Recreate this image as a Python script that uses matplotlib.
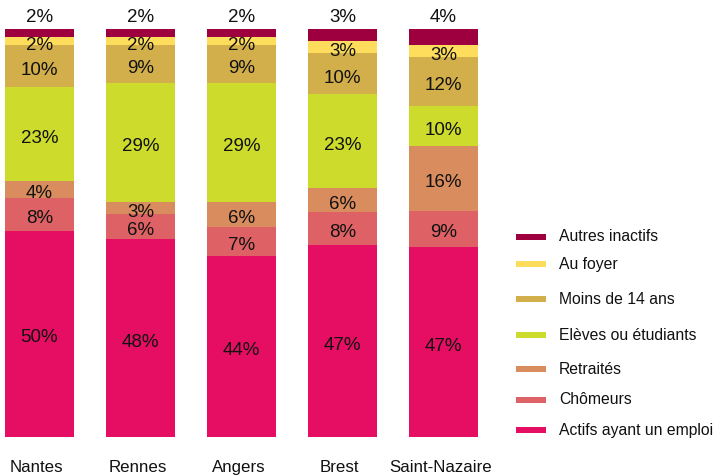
import matplotlib
matplotlib.use("Agg")
import matplotlib.pyplot as plt
from matplotlib.patches import Rectangle
import numpy as np

plt.rcParams['font.family'] = ['Liberation Sans', 'DejaVu Sans']

cities = ["Nantes", "Rennes", "Angers", "Brest", "Saint-Nazaire"]

# Stack order, bottom to top
categories = [
    "Actifs ayant un emploi",
    "Chômeurs",
    "Retraités",
    "Elèves ou étudiants",
    "Moins de 14 ans",
    "Au foyer",
    "Autres inactifs",
]

actifs = [50, 48, 44, 47, 47]
chomeurs = [8, 6, 7, 8, 9]
retraites = [4, 3, 6, 6, 16]
eleves = [23, 29, 29, 23, 10]
moins14 = [10, 9, 9, 10, 12]
foyer = [2, 2, 2, 3, 3]
autres = [2, 2, 2, 3, 4]

colors = ["#E50E62", "#DE6265", "#D98C5E", "#CCDB2C", "#D2AF4A", "#FFDD5C", "#9E003F"]

series = [actifs, chomeurs, retraites, eleves, moins14, foyer, autres]
data = np.array(series, dtype=float)
totals = data.sum(axis=0)
shares = data / totals * 100.0

W, H = 716, 475
fig = plt.figure(figsize=(W / 100, H / 100), dpi=100)
ax = fig.add_axes([4.15 / W, (H - 436.7) / H, 474.7 / W, (436.7 - 29) / H])

x = np.arange(len(cities))
bottom = np.zeros(len(cities))
text_color = "#111111"
for i, (name, col) in enumerate(zip(categories, colors)):
    ax.bar(x, shares[i], 0.683, bottom=bottom, color=col, linewidth=0, label=name)
    for j in range(len(cities)):
        label = f"{int(data[i, j])}%"
        if i == len(categories) - 1:
            ax.annotate(label, (x[j], bottom[j] + shares[i, j]), xytext=(0, 8),
                        textcoords="offset points", ha="center", va="center",
                        fontsize=13.5, color=text_color)
        else:
            ax.annotate(label, (x[j], bottom[j] + shares[i, j] / 2), xytext=(0, -3),
                        textcoords="offset points", ha="center", va="center",
                        fontsize=13.5, color=text_color)
    bottom += shares[i]

for j, c in enumerate(cities):
    ax.annotate(c, (x[j], 0), xytext=(-2, -22), textcoords="offset points",
                ha="center", va="center", fontsize=12.2, color=text_color)

ax.set_xlim(-0.35, 4.35)
ax.set_ylim(0, 100)
ax.axis("off")

# Legend, top entry first
legend_y = [237, 264, 299, 335, 369, 400, 430]
for name, col, yp in zip(categories[::-1], colors[::-1], legend_y):
    fig.add_artist(Rectangle((516 / W, (H - yp - 3) / H), 30 / W, 6 / H,
                             transform=fig.transFigure, color=col, linewidth=0))
    fig.text(559 / W, (H - yp) / H, name, ha="left", va="center",
             fontsize=11.3, color=text_color)

fig.savefig("out.png", dpi=100)
